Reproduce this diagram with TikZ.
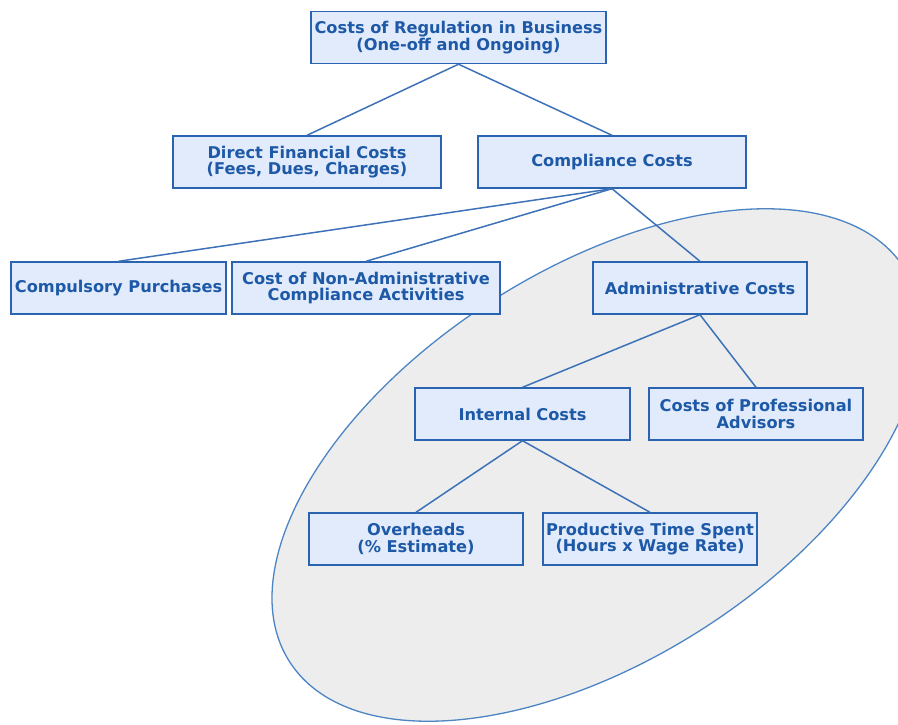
\documentclass[tikz,border=0pt]{standalone}
\usepackage{fontspec}
\setmainfont{DejaVu Sans}
\usepackage{tikz}
\definecolor{boxfill}{HTML}{E1EBFB}
\definecolor{boxline}{HTML}{2A64B0}
\definecolor{boxtext}{HTML}{1D59A7}
\definecolor{linkline}{HTML}{3D72B8}
\definecolor{ovalfill}{HTML}{EDEDED}
\definecolor{ovalline}{HTML}{4C84C4}

\begin{document}
\begin{tikzpicture}[x=1pt,y=-1pt,
			box/.style={draw=boxline, fill=boxfill, line width=1.4pt, text=boxtext, font=\bfseries\fontsize{16.2}{16.5}\selectfont, align=center, inner sep=0pt, minimum height=52pt},
			link/.style={draw=linkline, line width=1.5pt}]
			\useasboundingbox (0,0) rectangle (898,724);
			\begin{scope}
			\clip (0,0) rectangle (898,724);
			\draw[draw=ovalline, fill=ovalfill, line width=1.3pt, rotate around={32.6:(597,465)}] (597,465) ellipse [x radius=365pt, y radius=195pt];
			\end{scope}
			\node[box, minimum width=295pt] (regcosts) at (458.5,37.5) {Costs of Regulation in Business\\(One-off and Ongoing)};
			\node[box, minimum width=268pt] (direct) at (307,162) {Direct Financial Costs\\(Fees, Dues, Charges)};
			\node[box, minimum width=268pt] (compliance) at (612,162) {Compliance Costs};
			\node[box, minimum width=215pt] (purchases) at (118.5,288) {Compulsory Purchases};
			\node[box, minimum width=268pt] (nonadmin) at (366,288) {Cost of Non-Administrative\\Compliance Activities};
			\node[box, minimum width=214pt] (admin) at (700,288) {Administrative Costs};
			\node[box, minimum width=215pt] (internal) at (522.5,414) {Internal Costs};
			\node[box, minimum width=214pt] (advisors) at (756,414) {Costs of Professional\\Advisors};
			\node[box, minimum width=214pt] (overheads) at (416,539) {Overheads\\(\% Estimate)};
			\node[box, minimum width=214pt] (prodtime) at (650,539) {Productive Time Spent\\(Hours x Wage Rate)};
			\draw[link] (regcosts.south) -- (direct.north);
			\draw[link] (regcosts.south) -- (compliance.north);
			\draw[link] (compliance.south) -- (purchases.north);
			\draw[link] (compliance.south) -- (nonadmin.north);
			\draw[link] (compliance.south) -- (admin.north);
			\draw[link] (admin.south) -- (internal.north);
			\draw[link] (admin.south) -- (advisors.north);
			\draw[link] (internal.south) -- (overheads.north);
			\draw[link] (internal.south) -- (prodtime.north);
			\end{tikzpicture}
\end{document}
